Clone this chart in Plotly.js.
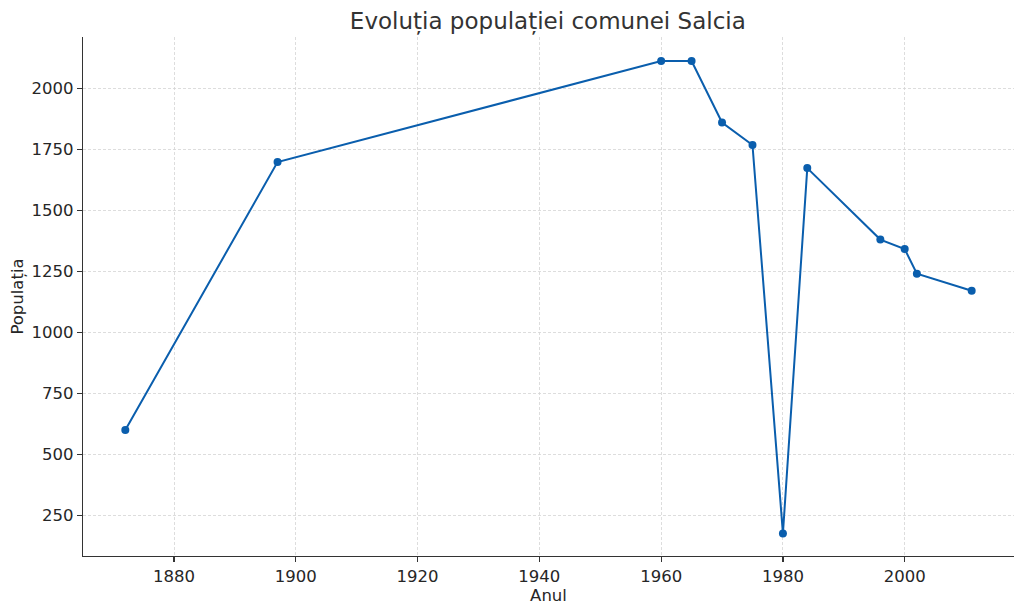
<!DOCTYPE html>
<html>
<head>
<meta charset="utf-8">
<script src="https://cdn.plot.ly/plotly-3.0.1.min.js"></script>
<style>html,body{margin:0;padding:0;background:#fff;}#chart{width:1024px;height:611px;}</style>
</head>
<body>
<div id="chart"></div>
<script>
const years = [1872, 1897, 1960, 1965, 1970, 1975, 1980, 1984, 1996, 2000, 2002, 2011];
const population = [600, 1699, 2113, 2113, 1861, 1769, 176, 1674, 1381, 1342, 1241, 1171];
const chartTitle = 'Evoluția populației comunei Salcia';
const xTitle = 'Anul';
const yTitle = 'Populația';

const font = 'DejaVu Sans, sans-serif';
const trace = {
  x: years, y: population, type: 'scatter', mode: 'lines+markers',
  line: {color: '#0a5ead', width: 2},
  marker: {color: '#0a5ead', size: 8},
  hoverinfo: 'x+y'
};
const axisCommon = {
  showline: true, linecolor: '#333', linewidth: 1.3,
  ticks: 'outside', ticklen: 5, tickwidth: 1.2, tickcolor: '#333',
  showgrid: true, gridcolor: '#d4d4d4', griddash: '3px,2px', gridwidth: 0.8,
  zeroline: false, mirror: false,
  tickfont: {family: font, size: 16.5, color: '#262626'}
};
const layout = {
  width: 1024, height: 611,
  margin: {l: 83, r: 10, t: 37, b: 55},
  paper_bgcolor: '#fff', plot_bgcolor: '#fff',
  showlegend: false,
  title: {text: chartTitle, font: {family: font, size: 23, color: '#333'}, x: 0.535, xanchor: 'center', y: 0.965, yanchor: 'middle'},
  xaxis: Object.assign({}, axisCommon, {
    range: [1865.05, 2017.95], tickvals: [1880, 1900, 1920, 1940, 1960, 1980, 2000],
    title: {text: xTitle, font: {family: font, size: 16.5, color: '#262626'}, standoff: 1}
  }),
  yaxis: Object.assign({}, axisCommon, {
    range: [83.25, 2211.75], tickvals: [250, 500, 750, 1000, 1250, 1500, 1750, 2000],
    title: {text: yTitle, font: {family: font, size: 16.5, color: '#262626'}, standoff: 3}
  })
};
Plotly.newPlot('chart', [trace], layout, {displayModeBar: false, staticPlot: true});
</script>
</body>
</html>
